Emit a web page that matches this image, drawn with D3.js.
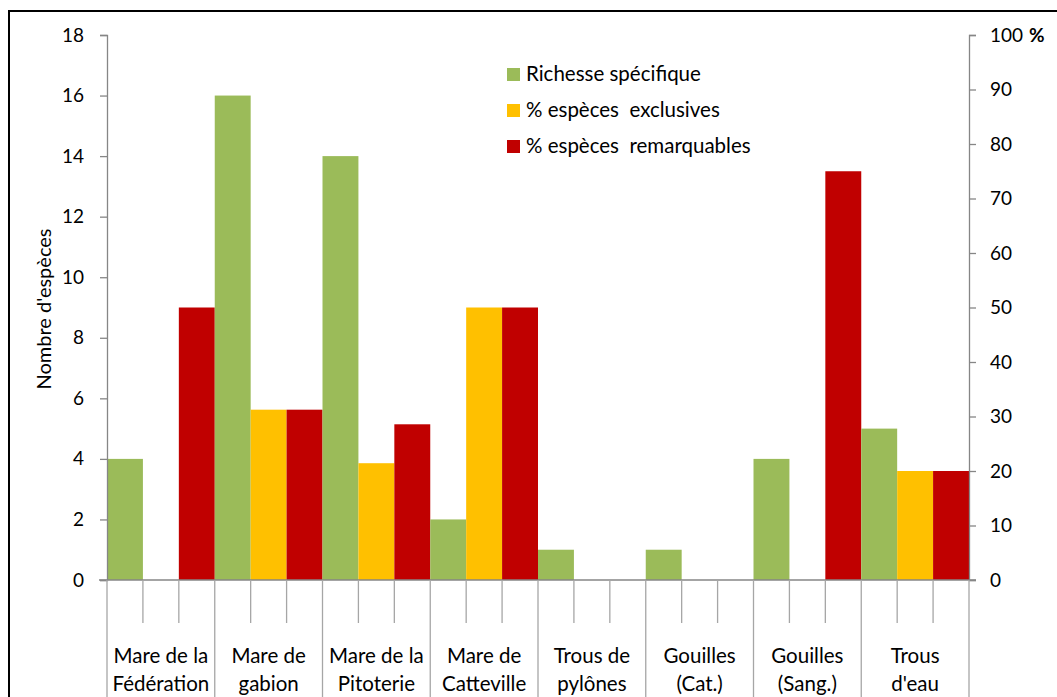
<!DOCTYPE html>
<html>
<head>
<meta charset="utf-8">
<script src="https://cdn.jsdelivr.net/npm/d3@7"></script>
<style>
  body { margin: 0; background: #fff; }
  text { font-family: Lato, "Open Sans", sans-serif; fill: #000; }
</style>
</head>
<body>
<div id="chart"></div>
<script>
const sites = [
  ['Mare de la', 'Fédération'],
  ['Mare de', 'gabion'],
  ['Mare de la', 'Pitoterie'],
  ['Mare de', 'Catteville'],
  ['Trous de', 'pylônes'],
  ['Gouilles', '(Cat.)'],
  ['Gouilles', '(Sang.)'],
  ['Trous', "d'eau"]
];
const richesse = [4, 16, 14, 2, 1, 1, 4, 5];
const exclusives = [0, 31.25, 21.43, 50, 0, 0, 0, 20];
const remarquables = [50, 31.25, 28.57, 50, 0, 0, 75, 20];
const seriesNames = ['Richesse spécifique', '% espèces  exclusives', '% espèces  remarquables'];
const leftTicks = [0, 2, 4, 6, 8, 10, 12, 14, 16, 18];
const rightTicks = [0, 10, 20, 30, 40, 50, 60, 70, 80, 90, 100];

const colors = ['#9BBB59', '#FFC000', '#C00000'];

const W = 1057, H = 697;
const plotL = 107, plotR = 969, plotT = 35, plotB = 580;

const svg = d3.select('#chart').append('svg')
    .attr('width', W)
    .attr('height', H);

// outer frame, cut by the picture edges
svg.append('rect')
    .attr('x', 9).attr('y', 11)
    .attr('width', W + 20).attr('height', H + 20)
    .attr('fill', 'none')
    .attr('stroke', '#000')
    .attr('stroke-width', 2);

const x = d3.scaleBand().domain(d3.range(sites.length)).range([plotL, plotR]);
const xs = d3.scaleBand().domain([0, 1, 2]).range([0, x.bandwidth()]);
const yL = d3.scaleLinear().domain([0, 18]).range([plotB, plotT]);
const yR = d3.scaleLinear().domain([0, 100]).range([plotB, plotT]);

const rows = sites.map(function(s, i) {
  return [
    {i: i, k: 0, v: richesse[i], y: yL},
    {i: i, k: 1, v: exclusives[i], y: yR},
    {i: i, k: 2, v: remarquables[i], y: yR}
  ];
});

svg.append('g').selectAll('rect')
    .data(rows.flat())
  .enter().append('rect')
    .attr('x', function(d) { return x(d.i) + xs(d.k); })
    .attr('width', xs.bandwidth())
    .attr('y', function(d) { return d.y(d.v); })
    .attr('height', function(d) { return plotB - d.y(d.v); })
    .attr('fill', function(d) { return colors[d.k]; });

const axisColor = '#868686';

// left axis
const gL = svg.append('g')
    .attr('transform', 'translate(' + plotL + ',0)')
    .call(d3.axisLeft(yL).tickValues(leftTicks).tickSize(7).tickPadding(16));
gL.selectAll('text').style('font-size', '19px');

// right axis
const gR = svg.append('g')
    .attr('transform', 'translate(' + plotR + ',0)')
    .call(d3.axisRight(yR).tickValues(rightTicks).tickSize(7).tickPadding(14)
      .tickFormat(function(d) { return d; }));
gR.selectAll('text').style('font-size', '19px');
gR.selectAll('.tick').filter(function(d) { return d === 100; }).select('text')
  .append('tspan').attr('dx', 6).style('font-weight', 'bold').text('%');

svg.selectAll('.domain').attr('stroke', axisColor).attr('stroke-width', 1.3);
svg.selectAll('.tick line').attr('stroke', axisColor).attr('stroke-width', 1.3);

// category axis line
svg.append('line')
    .attr('x1', plotL - 8).attr('x2', plotR + 7)
    .attr('y1', plotB).attr('y2', plotB)
    .attr('stroke', axisColor).attr('stroke-width', 1.3);

// bar separators below the axis
const g = svg.append('g');
sites.forEach(function(s, i) {
  [1, 2].forEach(function(k) {
    g.append('line')
      .attr('x1', x(i) + xs(k)).attr('x2', x(i) + xs(k))
      .attr('y1', plotB).attr('y2', 623)
      .attr('stroke', '#a6a6a6').attr('stroke-width', 1.3);
  });
});
d3.range(sites.length + 1).forEach(function(i) {
  const xx = i < sites.length ? x(i) : plotR;
  g.append('line')
    .attr('x1', xx).attr('x2', xx)
    .attr('y1', plotB).attr('y2', H)
    .attr('stroke', '#a6a6a6').attr('stroke-width', 1.3);
});

// category labels
const lab = svg.append('g').selectAll('text')
    .data(sites)
  .enter().append('text')
    .attr('x', function(d, i) { return x(i) + x.bandwidth() / 2; })
    .attr('text-anchor', 'middle')
    .style('font-size', '20.5px');
lab.append('tspan').attr('y', 663).text(function(d) { return d[0]; });
lab.append('tspan')
    .attr('x', function(d, i) { return x(i) + x.bandwidth() / 2; })
    .attr('y', 691).text(function(d) { return d[1]; });

// y title
svg.append('text')
    .attr('transform', 'translate(51,' + 309 + ') rotate(-90)')
    .attr('text-anchor', 'middle')
    .style('font-size', '20px')
    .text("Nombre d'espèces");

// legend
const leg = svg.append('g').selectAll('g')
    .data(seriesNames)
  .enter().append('g')
    .attr('transform', function(d, i) { return 'translate(507,' + (68 + i * 36) + ')'; });
leg.append('rect')
    .attr('width', 13).attr('height', 13)
    .attr('fill', function(d, i) { return colors[i]; });
leg.append('text')
    .attr('x', 19).attr('y', 13)
    .style('font-size', '20.5px')
    .style('white-space', 'pre')
    .text(function(d) { return d; });
</script>
</body>
</html>
